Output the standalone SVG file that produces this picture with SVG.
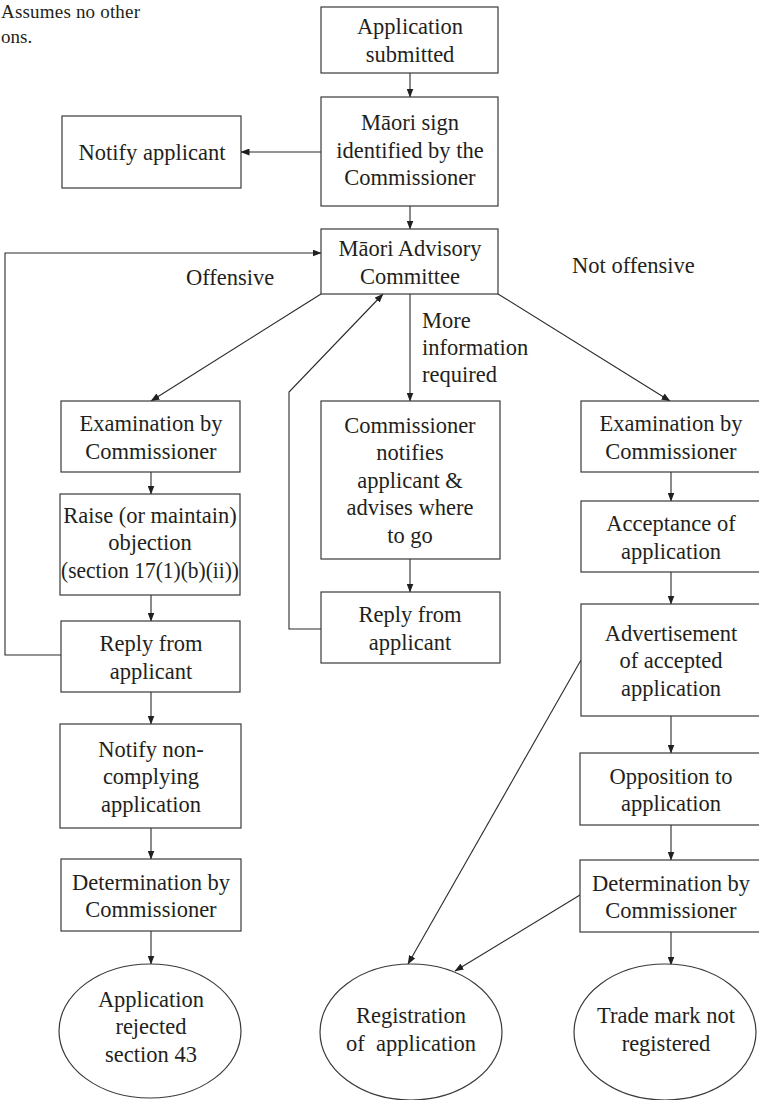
<svg xmlns="http://www.w3.org/2000/svg" width="759" height="1100" viewBox="0 0 759 1100">
<style>
  .box { fill: #ffffff; stroke: #3a3a3a; stroke-width: 1.2; }
  .t { font-family: "Liberation Serif", "Times New Roman", serif; font-size: 22.5px; fill: #231f20; text-anchor: middle; }
  .lbl { font-family: "Liberation Serif", "Times New Roman", serif; font-size: 22.5px; fill: #231f20; }
  .hdr { font-family: "Liberation Serif", "Times New Roman", serif; font-size: 19px; fill: #231f20; }
  .c { fill: none; stroke: #2a2a2a; stroke-width: 1.1; marker-end: url(#arr); }
</style>
<defs>
  <marker id="arr" markerWidth="9" markerHeight="7" refX="8.5" refY="3.5" orient="auto" markerUnits="userSpaceOnUse">
    <path d="M0,0 L9,3.5 L0,7 z" fill="#231f20"/>
  </marker>
</defs>
<rect width="759" height="1100" fill="#ffffff"/>

<g id="note">
  <text class="hdr" x="1" y="18" textLength="139" lengthAdjust="spacing">Assumes no other</text>
  <text class="hdr" x="1" y="43">ons.</text>
</g>

<g id="connectors">
  <line class="c" x1="410" y1="73" x2="410" y2="97"/>
  <line class="c" x1="321" y1="152" x2="241" y2="152"/>
  <line class="c" x1="410" y1="206" x2="410" y2="229"/>
  <line class="c" x1="321" y1="294" x2="151" y2="401"/>
  <line class="c" x1="410" y1="294" x2="410" y2="401"/>
  <line class="c" x1="498" y1="294" x2="670" y2="401"/>
  <line class="c" x1="151" y1="472" x2="151" y2="494"/>
  <line class="c" x1="151" y1="595" x2="151" y2="621"/>
  <polyline class="c" points="61,655 5,655 5,253 321,253"/>
  <line class="c" x1="151" y1="692" x2="151" y2="724"/>
  <line class="c" x1="151" y1="828" x2="151" y2="859"/>
  <line class="c" x1="151" y1="931" x2="151" y2="964"/>
  <line class="c" x1="410" y1="559" x2="410" y2="592"/>
  <polyline class="c" points="321,629 289,629 289,392 383,294"/>
  <line class="c" x1="671" y1="472" x2="671" y2="501"/>
  <line class="c" x1="671" y1="572" x2="671" y2="604"/>
  <line class="c" x1="671" y1="716" x2="671" y2="753"/>
  <line class="c" x1="671" y1="825" x2="671" y2="860"/>
  <line class="c" x1="671" y1="932" x2="671" y2="965"/>
  <line class="c" x1="581" y1="660" x2="408" y2="964"/>
  <line class="c" x1="580" y1="895" x2="455" y2="971"/>
</g>

<g id="labels">
  <text class="lbl" x="186" y="285">Offensive</text>
  <text class="lbl" x="572" y="273">Not offensive</text>
  <text class="lbl" x="422" y="328">More</text>
  <text class="lbl" x="422" y="355">information</text>
  <text class="lbl" x="422" y="382">required</text>
</g>

<g id="n1">
  <rect class="box" x="321" y="7" width="177" height="66"/>
  <text class="t" x="410" y="34">Application</text>
  <text class="t" x="410" y="62">submitted</text>
</g>
<g id="n2">
  <rect class="box" x="321" y="97" width="177" height="109"/>
  <text class="t" x="410" y="130">Māori sign</text>
  <text class="t" x="410" y="157.5">identified by the</text>
  <text class="t" x="410" y="185">Commissioner</text>
</g>
<g id="n3">
  <rect class="box" x="62" y="116" width="179" height="72"/>
  <text class="t" x="152" y="160">Notify applicant</text>
</g>
<g id="n4">
  <rect class="box" x="321" y="229" width="177" height="65"/>
  <text class="t" x="410" y="256">Māori Advisory</text>
  <text class="t" x="410" y="283.5">Committee</text>
</g>
<g id="n5">
  <rect class="box" x="61" y="401" width="179" height="71"/>
  <text class="t" x="151" y="431">Examination by</text>
  <text class="t" x="151" y="458.5">Commissioner</text>
</g>
<g id="n6">
  <rect class="box" x="60" y="494" width="180" height="101"/>
  <text class="t" x="150" y="522.5">Raise (or maintain)</text>
  <text class="t" x="150" y="550">objection</text>
  <text class="t" x="150" y="577.5" textLength="178" lengthAdjust="spacingAndGlyphs">(section 17(1)(b)(ii))</text>
</g>
<g id="n7">
  <rect class="box" x="61" y="621" width="179" height="71"/>
  <text class="t" x="151" y="651">Reply from</text>
  <text class="t" x="151" y="678.5">applicant</text>
</g>
<g id="n8">
  <rect class="box" x="60" y="724" width="181" height="104"/>
  <text class="t" x="151" y="756.5">Notify non-</text>
  <text class="t" x="151" y="784">complying</text>
  <text class="t" x="151" y="811.5">application</text>
</g>
<g id="n9">
  <rect class="box" x="61" y="859" width="180" height="72"/>
  <text class="t" x="151" y="889.5">Determination by</text>
  <text class="t" x="151" y="917">Commissioner</text>
</g>
<g id="n10">
  <ellipse class="box" cx="150" cy="1031" rx="91" ry="67"/>
  <text class="t" x="151" y="1007">Application</text>
  <text class="t" x="151" y="1034">rejected</text>
  <text class="t" x="151" y="1061.5">section 43</text>
</g>
<g id="n11">
  <rect class="box" x="321" y="401" width="179" height="158"/>
  <text class="t" x="410" y="432.5">Commissioner</text>
  <text class="t" x="410" y="460">notifies</text>
  <text class="t" x="410" y="487.5">applicant &amp;</text>
  <text class="t" x="410" y="515">advises where</text>
  <text class="t" x="410" y="542.5">to go</text>
</g>
<g id="n12">
  <rect class="box" x="321" y="592" width="179" height="71"/>
  <text class="t" x="410" y="622">Reply from</text>
  <text class="t" x="410" y="649.5">applicant</text>
</g>
<g id="n13">
  <rect class="box" x="581" y="401" width="185" height="71"/>
  <text class="t" x="671" y="431">Examination by</text>
  <text class="t" x="671" y="458.5">Commissioner</text>
</g>
<g id="n14">
  <rect class="box" x="581" y="501" width="185" height="71"/>
  <text class="t" x="671" y="531">Acceptance of</text>
  <text class="t" x="671" y="558.5">application</text>
</g>
<g id="n15">
  <rect class="box" x="581" y="604" width="185" height="112"/>
  <text class="t" x="671" y="640.5">Advertisement</text>
  <text class="t" x="671" y="668">of accepted</text>
  <text class="t" x="671" y="695.5">application</text>
</g>
<g id="n16">
  <rect class="box" x="580" y="753" width="186" height="72"/>
  <text class="t" x="671" y="783.5">Opposition to</text>
  <text class="t" x="671" y="811">application</text>
</g>
<g id="n17">
  <rect class="box" x="580" y="860" width="186" height="72"/>
  <text class="t" x="671" y="890.5">Determination by</text>
  <text class="t" x="671" y="918">Commissioner</text>
</g>
<g id="n18">
  <ellipse class="box" cx="411" cy="1032" rx="91" ry="68"/>
  <text class="t" x="411" y="1023" xml:space="preserve">Registration</text>
  <text class="t" x="411" y="1050.5" xml:space="preserve">of  application</text>
</g>
<g id="n19">
  <ellipse class="box" cx="665" cy="1032" rx="91" ry="68"/>
  <text class="t" x="666" y="1023">Trade mark not</text>
  <text class="t" x="666" y="1050.5">registered</text>
</g>
</svg>
